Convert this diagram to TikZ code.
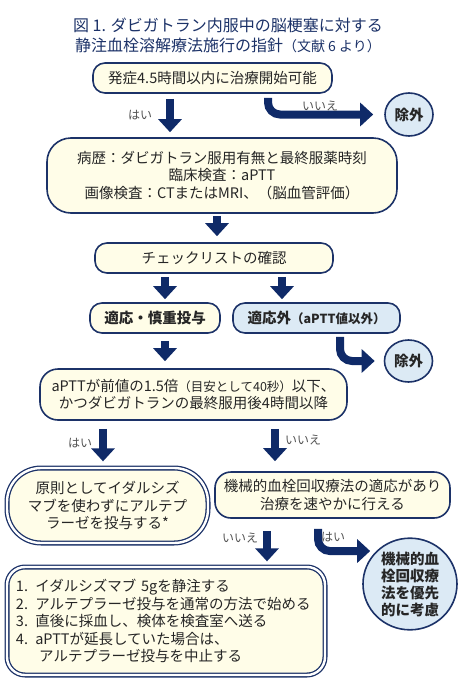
\documentclass[tikz,border=0pt]{standalone}
\usepackage{fontspec}
\setmainfont{Noto Sans CJK JP}
\usetikzlibrary{arrows.meta,shapes.geometric}

\definecolor{navy}{HTML}{1C3268}
\definecolor{arrowblue}{HTML}{0F2A68}
\definecolor{cream}{HTML}{FFFDE8}
\definecolor{paleblue}{HTML}{DCEAF5}
\definecolor{ink}{HTML}{262626}

\newcommand{\bodyfont}{\fontsize{14.5}{17.5}\selectfont}
\newcommand{\smallfont}{\fontsize{12.5}{14}\selectfont}

\tikzset{
  flowbox/.style={draw=navy, line width=1.6pt, rounded corners=12pt, fill=cream,
    text=ink, font=\bodyfont, align=center, inner sep=0pt},
  nobox/.style={flowbox, fill=paleblue},
  dblbox/.style={flowbox, line width=1.3pt, double=white, double distance=2.4pt},
  outcircle/.style={ellipse, draw=navy, line width=1.6pt, fill=paleblue, text=ink,
    font=\bodyfont\bfseries, align=center, inner sep=0pt},
  bigarrow/.style={draw=arrowblue, line width=8pt,
    -{Triangle[width=23pt,length=13pt]}},
  lbl/.style={text=ink!80, font=\fontsize{12}{14}\selectfont},
}

\begin{document}
\begin{tikzpicture}[x=1pt,y=-1pt]
  \useasboundingbox (0,0) rectangle (474,683);

  % title
  \node[text=navy, font=\fontsize{16}{20}\selectfont, align=center] (title) at (228,35)
    {図 1. ダビガトラン内服中の脳梗塞に対する\\
     静注血栓溶解療法施行の指針{\fontsize{14}{20}\selectfont （文献 6 より）}};

  % boxes
  \node[flowbox, minimum width=239pt, minimum height=30pt] (onset) at (212.5,78)
    {発症4.5時間以内に治療開始可能};
  \node[flowbox, rounded corners=24pt, minimum width=350pt, minimum height=75pt] (history) at (222,175.5)
    {病歴：ダビガトラン服用有無と最終服薬時刻\\
     臨床検査：aPTT\\
     画像検査：CTまたはMRI、（脳血管評価）};
  \node[flowbox, minimum width=238pt, minimum height=30pt] (check) at (214,258)
    {チェックリストの確認};
  \node[flowbox, minimum width=130pt, minimum height=30pt, font=\bodyfont\bfseries] (careful) at (155,318)
    {適応・慎重投与};
  \node[nobox, minimum width=167pt, minimum height=30pt] (contra) at (316.5,318)
    {\textbf{適応外}{\smallfont\bfseries （aPTT値以外）}};
  \node[flowbox, rounded corners=18pt, minimum width=307pt, minimum height=51pt] (aptt) at (193.5,394.5)
    {aPTTが前値の1.5倍{\smallfont （目安として40秒）}以下、\\
     かつダビガトランの最終服用後4時間以降};
  \node[dblbox, rounded corners=34pt, minimum width=201pt, minimum height=75pt] (alone) at (107.5,505.5)
    {原則としてイダルシズ\\
     マブを使わずにアルテプ\\
     ラーゼを投与する*};
  \node[flowbox, rounded corners=16pt, minimum width=235pt, minimum height=46pt] (thromb) at (332.5,495)
    {機械的血栓回収療法の適応があり\\
     治療を速やかに行える};
  \node[dblbox, rounded corners=18pt, text width=300pt, inner xsep=9pt, minimum height=108pt, align=left] (steps) at (166,621)
    {1. イダルシズマブ 5gを静注する\\
     2. アルテプラーゼ投与を通常の方法で始める\\
     3. 直後に採血し、検体を検査室へ送る\\
     4. aPTTが延長していた場合は、\\
     \hspace*{1.6em}アルテプラーゼ投与を中止する};

  % excluded / priority
  \node[outcircle, minimum width=48pt, minimum height=43pt] (excl1) at (409,114.5) {除外};
  \node[outcircle, minimum width=48pt, minimum height=42pt] (excl2) at (408.5,361) {除外};
  \node[outcircle, minimum width=94pt, minimum height=88pt, font=\fontsize{14.5}{17}\selectfont\bfseries] (mech) at (410,584)
    {機械的血\\栓回収療\\法を優先\\的に考慮};

  % arrow columns
  \coordinate (c1) at (170,0);
  \coordinate (c2) at (268,0);
  \coordinate (c3) at (217,0);
  \coordinate (c4) at (165,0);
  \coordinate (c5) at (282,0);
  \coordinate (c6) at (340,0);
  \coordinate (c7) at (103,0);
  \coordinate (c8) at (275,0);
  \coordinate (c9) at (267,0);
  \coordinate (c10) at (318,0);

  % arrows
  \draw[bigarrow, shorten <=5pt, shorten >=5pt] (onset.south -| c1) -- (history.north -| c1);
  \draw[bigarrow, rounded corners=12pt, shorten <=4pt, shorten >=11pt] (onset.south -| c2) |- (excl1.west);
  \draw[bigarrow, shorten <=2pt, shorten >=6pt] (history.south -| c3) -- (check.north -| c3);
  \draw[bigarrow, shorten <=3pt, shorten >=3pt] (check.south -| c4) -- (careful.north -| c4);
  \draw[bigarrow, shorten <=3pt, shorten >=3pt] (check.south -| c5) -- (contra.north -| c5);
  \draw[bigarrow, shorten <=7pt, shorten >=7pt] (careful.south -| c4) -- (aptt.north -| c4);
  \draw[bigarrow, rounded corners=12pt, shorten <=3pt, shorten >=9pt] (contra.south -| c6) |- (excl2.west);
  \draw[bigarrow, shorten <=8pt, shorten >=6pt] (aptt.south -| c7) -- (alone.north -| c7);
  \draw[bigarrow, shorten <=8pt, shorten >=10pt] (aptt.south -| c8) -- (thromb.north -| c8);
  \draw[bigarrow, shorten <=12pt, shorten >=5pt] (thromb.south -| c9) -- (steps.north -| c9);
  \draw[bigarrow, rounded corners=12pt, shorten <=10pt, shorten >=6pt] (thromb.south -| c10) |- (mech.north west);

  % labels
  \node[lbl] (yes1) at (140,115) {はい};
  \node[lbl] (no1) at (320,106) {いいえ};
  \node[lbl] (yes2) at (80,443) {はい};
  \node[lbl] (no2) at (303,440) {いいえ};
  \node[lbl] (no3) at (240,538) {いいえ};
  \node[lbl] (yes3) at (333,537) {はい};
\end{tikzpicture}
\end{document}
